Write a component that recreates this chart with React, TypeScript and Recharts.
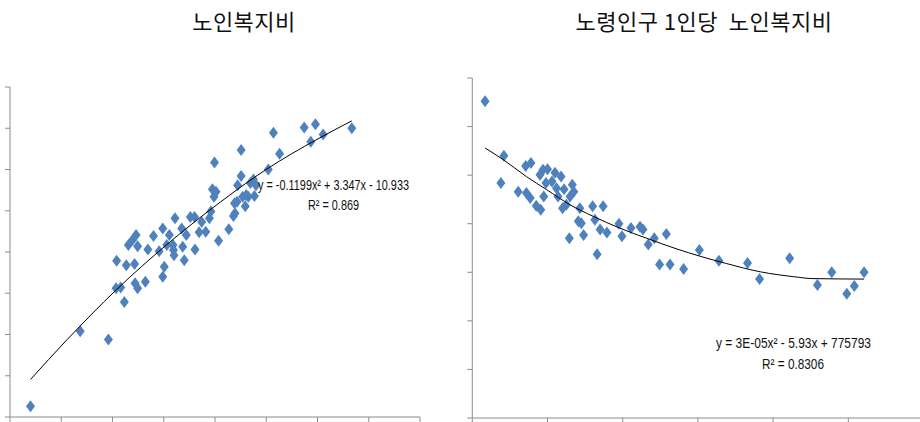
import { ScatterChart, Scatter, XAxis, YAxis } from 'recharts';

// left panel: 노인복지비 (values in tick units)
const welfarePoints: [number, number][] = [
  [0.40, 0.26], [1.37, 2.08], [1.92, 1.88], [2.08, 3.79], [2.07, 3.12], [2.16, 3.14],
  [2.23, 2.79], [2.27, 3.68], [2.31, 4.17], [2.39, 4.29], [2.46, 4.41], [2.43, 3.71],
  [2.44, 3.24], [2.49, 4.14], [2.49, 3.12], [2.64, 3.28], [2.69, 4.06], [2.80, 4.39],
  [2.91, 4.02], [2.98, 4.57], [2.98, 3.40], [3.01, 3.64], [3.06, 4.17], [3.11, 4.41],
  [3.19, 4.05], [3.20, 3.92], [3.22, 4.82], [3.35, 4.57], [3.37, 4.13], [3.40, 3.80],
  [3.44, 4.41], [3.52, 4.85], [3.60, 4.85], [3.61, 4.06], [3.69, 4.48], [3.74, 4.73],
  [3.82, 4.49], [3.89, 4.82], [3.92, 4.98], [3.95, 5.52], [3.98, 5.34], [4.02, 5.46],
  [3.99, 6.17], [4.07, 4.27], [4.27, 4.55], [4.36, 4.87], [4.38, 5.18], [4.43, 5.22],
  [4.44, 5.62], [4.51, 6.47], [4.51, 5.84], [4.54, 5.34], [4.59, 5.11], [4.61, 5.38],
  [4.65, 5.34], [4.69, 5.67], [4.75, 5.76], [4.77, 5.36], [4.80, 5.62], [5.04, 6.00],
  [5.14, 6.89], [5.26, 6.38], [5.74, 7.02], [5.87, 6.67], [5.96, 7.10], [6.11, 6.85],
  [6.67, 7.00], [3.18, 4.17], [4.39, 4.94],
];
const welfareTrend: [number, number][] = [
  [0.40, 0.91], [1.11, 1.87], [2.08, 3.09], [3.06, 4.18], [4.04, 5.15],
  [5.01, 6.01], [5.99, 6.73], [6.67, 7.18],
];
const welfareTicksX = [0, 1, 2, 3, 4, 5, 6, 7, 8];
const welfareTicksY = [0, 1, 2, 3, 4, 5, 6, 7, 8];

// right panel: 노령인구 1인당 노인복지비
const perCapitaPoints: [number, number][] = [
  [0.17, 6.52], [0.42, 5.40], [0.38, 4.84], [0.61, 4.66], [0.71, 5.19], [0.78, 5.25],
  [0.72, 4.63], [0.77, 4.53], [0.85, 4.37], [0.91, 4.29], [0.90, 5.01], [0.94, 5.11],
  [1.00, 5.12], [0.95, 4.56], [0.98, 4.84], [1.06, 4.87], [1.10, 5.05], [1.12, 4.73],
  [1.14, 4.56], [1.18, 4.97], [1.20, 4.32], [1.22, 4.71], [1.25, 4.39], [1.29, 3.70],
  [1.30, 4.56], [1.33, 4.80], [1.35, 4.66], [1.41, 4.05], [1.43, 4.32], [1.45, 4.01],
  [1.48, 3.77], [1.60, 4.36], [1.63, 4.08], [1.66, 3.37], [1.70, 3.88], [1.74, 4.36],
  [1.79, 3.82], [1.95, 4.00], [1.99, 3.74], [2.11, 3.91], [2.23, 3.94], [2.27, 3.88],
  [2.34, 3.57], [2.42, 3.70], [2.49, 3.16], [2.58, 3.79], [2.63, 3.16], [2.81, 3.07],
  [3.02, 3.46], [3.28, 3.24], [3.66, 3.19], [3.82, 2.86], [4.22, 3.29], [4.59, 2.74],
  [4.78, 3.00], [4.98, 2.56], [5.08, 2.72], [5.21, 3.00],
];
const perCapitaTrend: [number, number][] = [
  [0.17, 5.56], [0.41, 5.32], [0.72, 4.97], [0.99, 4.70], [1.30, 4.39], [1.61, 4.15],
  [1.96, 3.91], [2.32, 3.70], [2.72, 3.48], [3.03, 3.33], [3.38, 3.18], [3.83, 3.01],
  [4.27, 2.91], [4.53, 2.87], [5.21, 2.86],
];
const perCapitaTicksX = [0, 1, 2, 3, 4, 5, 6];
const perCapitaTicksY = [0, 1, 2, 3, 4, 5, 6, 7];

const toXY = (rows: [number, number][]) => rows.map(([x, y]) => ({ x, y }));

const AXIS = '#8c8c8c';
const BLUE = '#4f81bd';

const Diamond = (props: any) => {
  const { cx, cy } = props;
  if (cx == null || cy == null) return <g />;
  return (
    <polygon
      points={`${cx},${cy - 6} ${cx + 4.5},${cy} ${cx},${cy + 6} ${cx - 4.5},${cy}`}
      fill={BLUE}
    />
  );
};

const noLabel = () => '';

type PanelProps = {
  points: [number, number][];
  trend: [number, number][];
  ticksX: number[];
  ticksY: number[];
  width: number;
  margin: { top: number; right: number; bottom: number; left: number };
};

const Panel = ({ points, trend, ticksX, ticksY, width, margin }: PanelProps) => (
  <ScatterChart width={width} height={422} margin={margin}>
    <XAxis
      type="number"
      dataKey="x"
      domain={[ticksX[0], ticksX[ticksX.length - 1]]}
      ticks={ticksX}
      tickFormatter={noLabel}
      tickSize={5}
      height={6}
      stroke={AXIS}
      allowDataOverflow
    />
    <YAxis
      type="number"
      dataKey="y"
      domain={[ticksY[0], ticksY[ticksY.length - 1]]}
      ticks={ticksY}
      tickFormatter={noLabel}
      tickSize={5}
      width={10}
      stroke={AXIS}
      allowDataOverflow
    />
    <Scatter data={toXY(points)} shape={(p: any) => <Diamond {...p} />} isAnimationActive={false} />
    <Scatter
      data={toXY(trend)}
      line={{ stroke: '#000', strokeWidth: 1 }}
      lineType="joint"
      lineJointType="monotoneX"
      shape={() => <g />}
      isAnimationActive={false}
    />
  </ScatterChart>
);

const eqFont = { fontFamily: 'Liberation Sans, Arial, sans-serif', fontSize: 14.5, fill: '#111' };
const titleFont = { fontFamily: 'Noto Sans CJK KR, sans-serif', fontSize: 22, fill: '#111' };

export default function App() {
  return (
    <div
      style={{
        position: 'fixed',
        left: 0,
        top: 0,
        width: 920,
        height: 422,
        overflow: 'hidden',
        background: '#fff',
      }}
    >
      <div style={{ position: 'absolute', left: 0, top: 0 }}>
        <Panel
          points={welfarePoints}
          trend={welfareTrend}
          ticksX={welfareTicksX}
          ticksY={welfareTicksY}
          width={430}
          margin={{ top: 87, right: 10, bottom: -1, left: 0 }}
        />
      </div>
      <div style={{ position: 'absolute', left: 440, top: 0 }}>
        <Panel
          points={perCapitaPoints}
          trend={perCapitaTrend}
          ticksX={perCapitaTicksX}
          ticksY={perCapitaTicksY}
          width={500}
          margin={{ top: 78, right: 16.5, bottom: -2, left: 22.3 }}
        />
      </div>
      <svg
        width={920}
        height={422}
        style={{ position: 'absolute', left: 0, top: 0, pointerEvents: 'none' }}
      >
        <text x={244} y={30} textAnchor="middle" letterSpacing={0.5} {...titleFont}>노인복지비</text>
        <text x={704} y={30} textAnchor="middle" letterSpacing={0.5} {...titleFont} style={{ whiteSpace: 'pre' }}>
          노령인구 1인당  노인복지비
        </text>
        <text x={258} y={190} textLength={151} lengthAdjust="spacingAndGlyphs" {...eqFont}>
          y = -0.1199x² + 3.347x - 10.933
        </text>
        <text x={308} y={209.5} textLength={51} lengthAdjust="spacingAndGlyphs" {...eqFont}>
          R² = 0.869
        </text>
        <text x={716} y={347.5} textLength={155} lengthAdjust="spacingAndGlyphs" {...eqFont}>
          y = 3E-05x² - 5.93x + 775793
        </text>
        <text x={762} y={368.5} textLength={62} lengthAdjust="spacingAndGlyphs" {...eqFont}>
          R² = 0.8306
        </text>
      </svg>
    </div>
  );
}
